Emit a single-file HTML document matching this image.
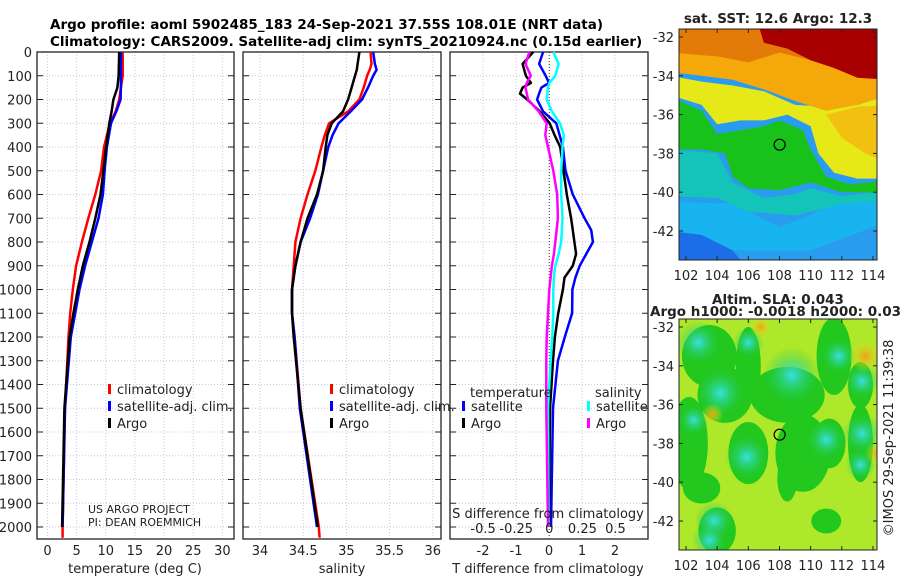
<!DOCTYPE html>
<html><head><meta charset="utf-8">
<style>
html,body{margin:0;padding:0;background:#fff;}
svg{display:block;font-family:"DejaVu Sans","Liberation Sans",sans-serif;}
</style></head>
<body>
<svg id="fig" width="900" height="580" viewBox="0 0 900 580" xmlns="http://www.w3.org/2000/svg">
<text x="50" y="29" font-size="13.5" font-weight="bold">Argo profile: aoml 5902485_183 24-Sep-2021 37.55S 108.01E (NRT data)</text>
<text x="50" y="46" font-size="13.5" font-weight="bold">Climatology: CARS2009. Satellite-adj clim: synTS_20210924.nc (0.15d earlier)</text>
<g id="panels"></g>
<g id="maps"></g>
</svg>
<script>
// ---- profile data ----
const depthT = [0,100,150,200,250,300,400,500,600,700,800,900,1000,1100,1200,1500,2000];
const tempArgo = [12.3,12.2,12.0,11.3,11.0,10.6,10.05,9.6,9.1,8.2,7.2,6.05,5.2,4.45,3.8,2.9,2.5];
const tempClim = [12.9,12.9,12.6,12.3,11.7,10.7,9.7,9.2,8.2,7.0,5.9,4.9,4.35,3.9,3.6,3.0,2.6];
const tempSat  = [12.6,12.6,12.6,12.55,11.8,10.9,10.2,9.8,9.5,8.75,7.6,6.45,5.5,4.75,4.0,3.0,2.6];
const depthS = [0,50,75,100,150,200,250,300,350,400,500,600,700,800,900,1000,1100,1200,1500,2000];
const salArgo = [35.15,35.13,35.12,35.10,35.06,35.02,34.96,34.83,34.78,34.76,34.73,34.66,34.55,34.47,34.41,34.37,34.37,34.39,34.47,34.67];
const salClim = [35.28,35.29,35.27,35.24,35.20,35.15,35.02,34.80,34.75,34.71,34.64,34.55,34.47,34.41,34.39,34.37,34.37,34.40,34.47,34.68];
const salSat  = [35.31,35.33,35.35,35.31,35.25,35.18,35.05,34.91,34.84,34.79,34.73,34.67,34.58,34.47,34.41,34.37,34.37,34.40,34.46,34.66];
const depthD = [0,50,100,130,150,175,200,250,300,350,400,500,600,700,750,800,850,900,950,1000,1100,1200,1300,1500,2000];
const dTArgo = [-0.48,-0.8,-0.7,-0.55,-0.8,-0.88,-0.66,-0.28,0.02,0.17,0.34,0.44,0.54,0.67,0.72,0.77,0.82,0.72,0.47,0.42,0.28,0.18,0.12,0.03,0.0];
const dTSat  = [-0.18,-0.3,-0.1,0.0,-0.23,-0.3,-0.36,-0.18,0.22,0.32,0.42,0.5,0.72,1.08,1.28,1.33,1.13,0.93,0.8,0.71,0.7,0.48,0.27,0.12,0.06];
const dSSat  = [0.03,0.07,0.045,0.0,-0.01,-0.015,-0.02,0.02,0.08,0.11,0.1,0.09,0.09,0.1,0.095,0.09,0.07,0.045,0.035,0.03,0.03,0.023,0.01,-0.01,-0.005];
const dSArgo = [-0.15,-0.18,-0.14,-0.17,-0.18,-0.17,-0.16,-0.08,-0.02,-0.03,-0.01,0.03,0.06,0.065,0.055,0.045,0.035,0.02,0.01,0.0,-0.01,-0.02,-0.023,-0.023,-0.01];
const depthTicks = [0,100,200,300,400,500,600,700,800,900,1000,1100,1200,1300,1400,1500,1600,1700,1800,1900,2000];
const tTicks = [0,5,10,15,20,25,30];
const sTicks = [34,34.5,35,35.5,36];
const sTickLabels = ["34","34.5","35","35.5","36"];
const dTTicks = [-2,-1,0,1,2];
const dSTicks = [-0.5,-0.25,0,0.25,0.5];
const dSTickLabels = ["-0.5","-0.25","0","0.25","0.5"];

const NS="http://www.w3.org/2000/svg";
function el(tag, attrs, parent){const e=document.createElementNS(NS,tag);for(const k in attrs)e.setAttribute(k,attrs[k]);parent.appendChild(e);return e;}
const top0=52, bot0=539;
const yD = d => 52 + d*0.2375;
const panels=document.getElementById('panels');

function panel(name,x0,x1,vmin,vmax){
  const g=el('g',{},panels);
  
  
  const xs=v=>x0+(v-vmin)/(vmax-vmin)*(x1-x0);
  return {g,xs,x0,x1};
}
function frame(p,vticks,xsTick){
  for(const d of depthTicks){
    const y=yD(d);
    const gl=el('line',{x1:p.x0,x2:p.x1,y1:y,y2:y,stroke:'#c6c6e6','stroke-dasharray':'1,2','stroke-width':1},p.g);
    
    
    el('line',{x1:p.x0,x2:p.x0+6,y1:y,y2:y,stroke:'#222'},p.g);
    el('line',{x1:p.x1-6,x2:p.x1,y1:y,y2:y,stroke:'#222'},p.g);
  }
  for(const v of vticks){
    const x=xsTick(v);
    const gl=el('line',{x1:x,x2:x,y1:top0,y2:bot0,stroke:'#c6c6e6','stroke-dasharray':'1,2'},p.g);
    
    
  }
  const r=el('rect',{x:p.x0,y:top0,width:p.x1-p.x0,height:bot0-top0,fill:'none',stroke:'#222','stroke-width':1.3},p.g);
  
  
}
function line(p,xs,vals,depths,color,w,name){
  const pts=vals.map((v,i)=>xs(v).toFixed(1)+','+yD(depths[i]).toFixed(1)).join(' ');
  const l=el('polyline',{points:pts,fill:'none',stroke:color,'stroke-width':w,'stroke-linejoin':'round'},p.g);
  
  
}
function txt(g,x,y,s,size,anchor,name){
  const t=el('text',{x:x,y:y,'font-size':size,'text-anchor':anchor||'start',fill:'#222'},g);
  t.textContent=s;
  
  
  return t;
}
function legend(g,x,y,color,label){
  el('rect',{x:x,y:y-8,width:3,height:10,fill:color},g);
  txt(g,x+9,y+2,label,13,'start','legend-entry');
}

// Panel 1 temperature
const p1=panel('temperature-panel',37,234,-1.8,32);
frame(p1,tTicks,p1.xs);
line(p1,p1.xs,tempClim.concat([2.6]),depthT.concat([2045]),'#f00',2.5,'temp-climatology-line');
line(p1,p1.xs,tempSat,depthT,'#00f',2.5,'temp-satellite-line');
line(p1,p1.xs,tempArgo,depthT,'#000',2.5,'temp-argo-line');
depthTicks.forEach(d=>txt(p1.g,32,yD(d)+5,String(d),13,'end','depth-tick-label'));
tTicks.forEach(v=>txt(p1.g,p1.xs(v),555,String(v),13,'middle','temp-tick-label'));
txt(p1.g,135,573,'temperature (deg C)',13,'middle','temp-axis-title');
legend(p1.g,108,392,'#f00','climatology');
legend(p1.g,108,409,'#00f','satellite-adj. clim.');
legend(p1.g,108,426,'#000','Argo');
txt(p1.g,88,513,'US ARGO PROJECT',11,'start','credit-project');
txt(p1.g,88,526,'PI: DEAN ROEMMICH',11,'start','credit-pi');

// Panel 2 salinity
const p2=panel('salinity-panel',243,441,33.803,36.095);
frame(p2,sTicks,p2.xs);
line(p2,p2.xs,salClim.concat([34.69]),depthS.concat([2045]),'#f00',2.5,'sal-climatology-line');
line(p2,p2.xs,salSat,depthS,'#00f',2.5,'sal-satellite-line');
line(p2,p2.xs,salArgo,depthS,'#000',2.5,'sal-argo-line');
sTicks.forEach((v,i)=>txt(p2.g,p2.xs(v),555,sTickLabels[i],13,'middle','sal-tick-label'));
txt(p2.g,342,573,'salinity',13,'middle','sal-axis-title');
legend(p2.g,330,392,'#f00','climatology');
legend(p2.g,330,409,'#00f','satellite-adj. clim.');
legend(p2.g,330,426,'#000','Argo');

// Panel 3 differences
const p3=panel('difference-panel',450,648,-3.0,3.0);
const xsS=v=>549.3+v*132.4;
frame(p3,dTTicks,p3.xs);
el('line',{x1:549.3,x2:549.3,y1:top0,y2:bot0,stroke:'#444','stroke-dasharray':'1,2'},p3.g);
line(p3,p3.xs,dTSat,depthD,'#00f',2.5,'tdiff-satellite-line');
line(p3,p3.xs,dTArgo,depthD,'#000',2.5,'tdiff-argo-line');
line(p3,xsS,dSSat,depthD,'#0ff',2.5,'sdiff-satellite-line');
line(p3,xsS,dSArgo,depthD,'#f0f',2.5,'sdiff-argo-line');
dTTicks.forEach(v=>txt(p3.g,p3.xs(v),555,String(v),13,'middle','tdiff-tick-label'));
dSTicks.forEach((v,i)=>txt(p3.g,xsS(v),533,dSTickLabels[i],13,'middle','sdiff-tick-label'));
txt(p3.g,548,518,'S difference from climatology',13,'middle','sdiff-axis-title');
txt(p3.g,548,573,'T difference from climatology',13,'middle','tdiff-axis-title');
txt(p3.g,470,397,'temperature',13,'start','legend-heading-temp');
txt(p3.g,595,397,'salinity',13,'start','legend-heading-sal');
legend(p3.g,462,409,'#00f','satellite');
legend(p3.g,462,426,'#000','Argo');
legend(p3.g,587,409,'#0ff','satellite');
legend(p3.g,587,426,'#f0f','Argo');

// ---- maps ----
const maps=document.getElementById('maps');
const lonTicks=[102,104,106,108,110,112,114];
const latTicks=[-32,-34,-36,-38,-40,-42];
function mapFrame(name,yTop,yBot,lat32,lat42){
  const g=el('g',{},maps);
  
  
  const X=lon=>686+(lon-102)*15.58;
  const Y=lat=>lat32+(-32-lat)*(lat42-lat32)/10;
  const cid='clip-'+name;
  const cp=el('clipPath',{id:cid},g);
  el('rect',{x:679,y:yTop,width:198,height:yBot-yTop},cp);
  const body=el('g',{'clip-path':'url(#'+cid+')'},g);
  return {g,body,X,Y,yTop,yBot,finish:function(){
    lonTicks.forEach(l=>{el('line',{x1:X(l),x2:X(l),y1:yBot,y2:yBot-4,stroke:'#222'},g);el('line',{x1:X(l),x2:X(l),y1:yTop,y2:yTop+4,stroke:'#222'},g);txt(g,X(l),yBot+20,String(l),13,'middle','lon-tick-label');});
    latTicks.forEach(l=>{el('line',{x1:679,x2:683,y1:Y(l),y2:Y(l),stroke:'#222'},g);el('line',{x1:873,x2:877,y1:Y(l),y2:Y(l),stroke:'#222'},g);txt(g,674,Y(l)+5,String(l),13,'end','lat-tick-label');});
    el('rect',{x:679,y:yTop,width:198,height:yBot-yTop,fill:'none',stroke:'#222'},g);
    const c=el('circle',{cx:X(108.01),cy:Y(-37.55),r:5.5,fill:'none',stroke:'#000','stroke-width':1.2},g);
    
    
  }};
}
function poly(m,pts,fill){
  el('polygon',{points:pts.map(p=>m.X(p[0]).toFixed(1)+','+m.Y(p[1]).toFixed(1)).join(' '),fill:fill},m.body);
}
// SST map
const m1=mapFrame('sst-map',29,260,37,231);
txt(m1.g,778,23,'sat. SST: 12.6 Argo: 12.3',13.5,'middle','sst-map-title').setAttribute('font-weight','bold');
el('rect',{x:679,y:29,width:198,height:231,fill:'#2a9cf0'},m1.body);
poly(m1,[[101,-40.5],[105,-40.6],[108,-41.8],[110,-41.2],[112,-40.2],[115,-40],[115,-41.5],[110,-43],[101,-43]],'#18b4f0');
poly(m1,[[101,-42],[103,-42.2],[105,-43],[106,-44],[101,-44]],'#1c6ee8');
poly(m1,[[101,-37.8],[104,-38],[105,-39.5],[107,-40.3],[109,-40.1],[110,-39.8],[112,-40.2],[115,-39.9],[115,-40.4],[112,-40.6],[109,-41.2],[106,-41],[104,-40.3],[101,-40.2]],'#14c4b8');
poly(m1,[[101,-35.1],[103,-35.8],[104,-37],[105.5,-36.8],[107,-36.6],[108,-36.3],[109.5,-36.8],[110,-37.8],[111,-39.2],[112.5,-39.6],[115,-39.4],[115,-40],[112,-40],[110,-39.5],[108,-39.9],[106,-39.8],[105,-39.2],[104.5,-38],[103,-37.8],[101,-37.8]],'#18c21a');
poly(m1,[[101,-34],[103,-34.3],[105,-34.5],[107,-34.8],[109,-35.5],[111,-35.6],[113,-35.5],[115,-35],[115,-39.3],[113,-39.3],[111.5,-39],[110.5,-38],[110,-36.6],[108.5,-36],[107,-36.3],[105.5,-36.3],[104,-36.5],[103,-35.5],[101,-35]],'#e6e818');
poly(m1,[[101,-31],[115,-31],[115,-35],[113,-35.5],[111,-35.8],[109,-35.3],[107,-34.7],[105,-34.2],[103,-34],[101,-33.8]],'#f4a80a');
poly(m1,[[111,-36],[113,-35.6],[115,-35.5],[115,-38.5],[113.5,-38],[112,-37.2]],'#f2c010');
poly(m1,[[101,-31],[115,-31],[115,-32.2],[112,-32.6],[110,-33.2],[108,-32.8],[106,-33.3],[104,-33],[101,-32.8]],'#e47a08');
poly(m1,[[106.5,-31],[115,-31],[115,-34.2],[113,-34.1],[111.5,-33.6],[110,-33.2],[108.5,-32.6],[107,-32.3]],'#a80000');
m1.finish();
// SLA map
const m2=mapFrame('sla-map',319,550,327,521);
txt(m2.g,778,304,'Altim. SLA: 0.043',13.5,'middle','sla-map-title').setAttribute('font-weight','bold');
txt(m2.g,650,316,'Argo h1000: -0.0018 h2000: 0.032',13.5,'start','sla-map-subtitle').setAttribute('font-weight','bold');
const gdefs=el('defs',{},m2.body);
function rg(id,c1,c2){const r=el('radialGradient',{id:id},gdefs);el('stop',{offset:'0%','stop-color':c1},r);el('stop',{offset:'100%','stop-color':c2,'stop-opacity':0},r);}
rg('gcy','#38e0e8','#20c840');rg('gor','#f0a018','#d8e820');
el('rect',{x:679,y:319,width:198,height:231,fill:'#aee82a'},m2.body);
const greens=[[103.5,-33.5,2.2,2],[104.5,-35.5,2.2,1.8],[102.2,-38,1.5,3],[106,-34,1,2.5],[106,-38.5,1.6,2],[108.5,-35.5,3,1.8],[109.5,-38.5,2.2,2.5],[111.5,-33.5,1.4,2.5],[111.2,-38,1.3,1.6],[113.2,-35,1,1.5],[113.2,-38,1,2.5],[104,-42.5,1.5,1.5],[103,-40.3,1.5,1],[111,-42,1.2,0.8],[108.5,-39.8,0.8,1.5]];
greens.forEach(g=>el('ellipse',{cx:m2.X(g[0]),cy:m2.Y(g[1]),rx:g[2]*15.6*0.8,ry:g[3]*19.4*0.8,fill:'#22c81e'},m2.body));
const cyans=[[102.8,-32.8,1],[104.2,-35.4,1.1],[108.8,-34.5,1.3],[111,-37.8,0.9],[105.9,-38.7,1],[113.3,-34.8,0.8],[113.3,-37.5,0.9],[113.2,-39.1,0.7],[111.8,-33.5,0.8],[106,-32.8,0.7],[103.8,-42,0.9],[103.5,-43,0.8],[102.5,-36.8,0.7]];
cyans.forEach(c=>el('circle',{cx:m2.X(c[0]),cy:m2.Y(c[1]),r:c[2]*22,fill:'url(#gcy)'},m2.body));
const oranges=[[113.5,-33.5,0.9],[103.7,-36.5,0.6],[106.8,-32,0.6],[114.3,-38.5,0.7]];
oranges.forEach(c=>el('circle',{cx:m2.X(c[0]),cy:m2.Y(c[1]),r:c[2]*18,fill:'url(#gor)'},m2.body));
m2.finish();
const cr=txt(maps,0,0,'©IMOS 29-Sep-2021 11:39:38',13,'middle','copyright-timestamp');
cr.setAttribute('transform','translate(893,438) rotate(-90)');
</script>
</body></html>
